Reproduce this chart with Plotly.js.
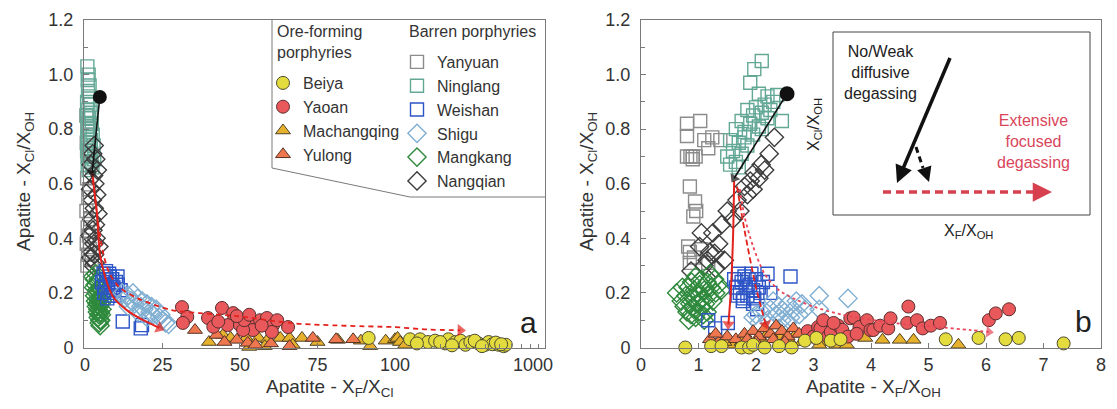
<!DOCTYPE html>
<html><head><meta charset="utf-8">
<script src="https://cdn.plot.ly/plotly-3.0.1.min.js"></script>
<style>html,body{margin:0;padding:0;background:#fff}#chart{width:1117px;height:409px}</style>
</head><body><div id="chart"></div>
<script>
// ---------------- DATA ----------------
// Panel a: x = X_F/X_Cl, y = X_Cl/X_OH
const a_ninglang_x = [0.8,1.2,0.9,1.5,1.0,1.3,0.7,1.8,1.1,2.0,0.6,1.4,2.2,0.9,1.6,1.2,2.5,0.8,1.9,1.1,2.8,1.5,0.7,2.1,1.3,3.0,1.7,0.9,2.4,1.2];
const a_ninglang_y = [1.03,1.0,0.98,0.96,0.94,0.92,0.9,0.89,0.87,0.86,0.85,0.84,0.82,0.81,0.8,0.79,0.78,0.77,0.76,0.75,0.74,0.73,0.72,0.71,0.7,0.69,0.68,0.67,0.66,0.65];
const a_yanyuan_x = [0.5,1.0,0.8,1.5,0.6,1.2,0.9,2.0,0.7,1.4,1.1,0.5,1.8,0.9,1.3,0.6,1.6,1.0,2.2,0.8];
const a_yanyuan_y = [0.85,0.82,0.8,0.78,0.75,0.72,0.7,0.68,0.62,0.58,0.55,0.5,0.47,0.44,0.41,0.38,0.36,0.34,0.32,0.3];
const a_nangqian_x = [3.0,2.5,3.5,2.0,4.0,2.8,3.2,1.8,3.8,2.4,3.0,4.2,2.2,3.4,2.6,1.6,3.6,2.9,4.5,2.3,3.1,1.9,3.3,2.7];
const a_nangqian_y = [0.74,0.71,0.69,0.67,0.65,0.63,0.6,0.58,0.56,0.54,0.51,0.49,0.47,0.45,0.43,0.41,0.4,0.38,0.37,0.35,0.34,0.33,0.31,0.3];
const a_mangkang_x = [2.5,3.0,3.5,4.0,2.8,3.3,3.8,4.3,4.8,3.1,3.6,4.1,4.6,5.1,3.4,3.9,4.4,4.9,5.4,3.7,4.2,4.7,5.2,4.0,4.5,5.0,5.5,4.3,4.8,5.3,4.6,5.1,4.9,5.6,6.0];
const a_mangkang_y = [0.26,0.25,0.27,0.24,0.22,0.23,0.21,0.25,0.22,0.19,0.2,0.18,0.2,0.21,0.17,0.16,0.17,0.18,0.19,0.15,0.14,0.15,0.16,0.13,0.12,0.13,0.14,0.11,0.1,0.12,0.09,0.1,0.08,0.17,0.2];
const a_weishan_x = [5.5,6.0,6.5,7.0,7.5,8.0,8.5,9.0,9.5,10.0,10.5,6.2,7.2,8.2,9.2,6.8,7.8,8.8,10.6,11.5,12.2,18.4,18.0];
const a_weishan_y = [0.24,0.27,0.22,0.25,0.2,0.26,0.23,0.21,0.19,0.24,0.26,0.2,0.18,0.19,0.22,0.28,0.27,0.25,0.23,0.21,0.095,0.082,0.07];
const a_shigu_x = [12,13,14,15,16,17,18,19,20,21,22,23,24,25,26,27,15.5,18.5,21.5,24.5,14,17,20];
const a_shigu_y = [0.2,0.18,0.19,0.17,0.16,0.18,0.15,0.14,0.16,0.13,0.12,0.14,0.11,0.1,0.09,0.085,0.2,0.17,0.15,0.12,0.15,0.13,0.11];
const a_yaoan_x = [31.3,33,31.6,39.7,41.4,44.2,47.8,48,46,50,54,54.2,56.5,58.7,60.7,60.3,65.5,51,51.4,43,57,62,49,53];
const a_yaoan_y = [0.148,0.112,0.09,0.108,0.076,0.145,0.126,0.1,0.082,0.082,0.093,0.064,0.1,0.108,0.082,0.057,0.075,0.064,0.1,0.095,0.08,0.1,0.115,0.12];
const a_machangqing_x = [44.5,47,52,56,59,63,66,70,75,81.6,89,97,100,104,108,117,92,58,67,53,40,225,290];
const a_machangqing_y = [0.046,0.035,0.035,0.035,0.03,0.035,0.035,0.035,0.02,0.028,0.025,0.025,0.03,0.035,0.02,0.01,0.005,0.005,0.01,0.002,0.02,0.02,0.015];
const a_yulong_x = [35.5,42.5,49,52.5,73.5,81,86.5,45,55,60,66];
const a_yulong_y = [0.064,0.046,0.028,0.017,0.035,0.03,0.03,0.02,0.01,0.015,0.005];
const a_beiya_x = [91.5,126,147,166,185,216,227,253,273,295,318,360,400,421,447,491,530,548,140,200,240,340,380,470,510];
const a_beiya_y = [0.035,0.03,0.03,0.02,0.025,0.015,0.03,0.02,0.025,0.01,0.02,0.015,0.01,0.02,0.012,0.01,0.005,0.01,0.015,0.02,0.008,0.025,0.005,0.018,0.012];

// Panel b: x = X_F/X_OH, y = X_Cl/X_OH
const b_ninglang_x = [2.1,1.97,1.9,2.05,2.2,2.37,2.45,2.3,2.15,2.0,1.85,1.95,2.1,2.25,1.75,1.9,2.05,2.2,1.65,1.8,1.95,2.1,1.55,1.7,1.85,1.6,1.75,1.5,1.65,1.55,1.8,1.7];
const b_ninglang_y = [1.05,1.02,0.97,0.93,0.92,0.925,0.83,0.9,0.89,0.88,0.87,0.85,0.86,0.87,0.83,0.82,0.81,0.84,0.8,0.79,0.78,0.8,0.76,0.75,0.74,0.72,0.71,0.7,0.68,0.67,0.77,0.66];
const b_yanyuan_x = [0.8,1.03,0.8,1.24,1.38,1.17,0.8,0.86,0.9,0.95,0.85,0.94,0.96,0.91,0.82,0.85,0.92,1.17,0.85,1.1,0.9,1.05];
const b_yanyuan_y = [0.82,0.83,0.775,0.77,0.76,0.73,0.7,0.7,0.7,0.7,0.59,0.535,0.5,0.48,0.37,0.35,0.33,0.31,0.31,0.76,0.69,0.36];
const b_nangqian_x = [2.32,2.23,2.09,1.97,2.05,1.9,1.8,1.85,1.67,1.72,1.5,1.6,1.4,1.25,1.05,1.02,1.28,1.45,1.15,0.87,1.35,1.2,2.15,1.95,1.1,1.3];
const b_nangqian_y = [0.77,0.71,0.67,0.64,0.62,0.61,0.59,0.56,0.54,0.5,0.5,0.47,0.45,0.42,0.42,0.37,0.345,0.32,0.32,0.28,0.38,0.35,0.65,0.58,0.3,0.29];
const b_mangkang_x = [0.62,0.7,0.75,0.78,0.8,0.82,0.85,0.87,0.9,0.92,0.93,0.95,0.97,1.0,1.0,1.02,1.05,1.07,1.08,1.1,1.12,1.15,1.17,1.2,1.22,1.25,1.28,1.3,1.35,1.4,0.88,0.95,1.05,0.83,1.15,0.98,1.03,0.9,0.72,1.1];
const b_mangkang_y = [0.2,0.17,0.15,0.19,0.13,0.22,0.16,0.12,0.18,0.14,0.21,0.11,0.16,0.19,0.13,0.23,0.15,0.18,0.12,0.21,0.16,0.24,0.19,0.27,0.22,0.17,0.25,0.2,0.23,0.21,0.24,0.26,0.25,0.1,0.13,0.2,0.17,0.15,0.22,0.1];
const b_weishan_x = [1.62,1.65,1.7,1.72,1.75,1.78,1.8,1.82,1.85,1.87,1.9,1.92,1.95,1.97,2.0,2.05,2.08,2.12,2.2,2.25,1.77,1.95,2.6,1.17,1.29,1.51,1.68,2.02];
const b_weishan_y = [0.25,0.22,0.27,0.2,0.24,0.18,0.26,0.22,0.19,0.25,0.23,0.27,0.21,0.18,0.25,0.22,0.2,0.24,0.27,0.2,0.17,0.16,0.26,0.1,0.07,0.09,0.19,0.14];
const b_shigu_x = [1.95,2.05,2.1,2.2,2.25,2.3,2.35,2.4,2.45,2.5,2.55,2.6,2.65,2.7,2.75,2.8,2.4,2.55,2.3,2.0,3.1,3.6,3.1,2.85];
const b_shigu_y = [0.11,0.09,0.13,0.1,0.14,0.08,0.12,0.15,0.1,0.13,0.16,0.11,0.14,0.17,0.12,0.16,0.07,0.09,0.17,0.12,0.19,0.18,0.14,0.14];
const b_yaoan_x = [2.9,3.0,3.08,3.12,3.17,3.25,3.3,3.43,3.5,3.6,3.64,3.7,3.8,3.93,3.99,4.04,4.16,4.3,4.34,4.63,4.65,4.8,4.9,5.04,5.2,6.05,6.17,6.4,3.35,3.75];
const b_yaoan_y = [0.06,0.04,0.075,0.07,0.1,0.04,0.057,0.08,0.065,0.04,0.107,0.11,0.075,0.1,0.064,0.064,0.08,0.07,0.107,0.09,0.15,0.1,0.07,0.08,0.09,0.1,0.125,0.14,0.09,0.05];
const b_machangqing_x = [1.3,1.6,1.9,2.1,2.2,2.4,2.6,2.7,2.8,3.0,3.2,3.4,3.58,2.45,3.1,3.9,4.2,4.5,4.74,5.52,2.95,3.3,1.45,1.75];
const b_machangqing_y = [0.01,0.01,0.01,0.03,0.05,0.04,0.02,0.05,0.02,0.03,0.02,0.01,0.01,0.01,0.01,0.035,0.028,0.028,0.028,0.01,0.05,0.04,0.02,0.02];
const b_yulong_x = [1.2,1.35,1.5,1.65,1.8,1.95,2.05,2.15,2.25,2.35,2.45,2.55,2.65,2.75,2.3,2.0,2.5,1.85,2.9,1.3];
const b_yulong_y = [0.03,0.02,0.04,0.03,0.05,0.06,0.04,0.07,0.05,0.08,0.06,0.04,0.07,0.05,0.03,0.02,0.02,0.03,0.03,0.05];
const b_beiya_x = [0.77,1.22,1.4,1.75,1.88,1.95,2.15,2.4,2.62,2.85,3.05,3.3,3.47,5.3,5.87,6.34,6.57,7.35];
const b_beiya_y = [0.0,0.005,0.005,0.0,0.0,0.01,0.0,0.005,0.0,0.025,0.035,0.025,0.03,0.03,0.035,0.03,0.035,0.015];

// Trend paths (data space)
const a_black_x = [4.8, 2.3];
const a_black_y = [0.918, 0.64];
const a_solid_x = [2.3,3.9,4.8,6.5,9.1,13.5,18.8,24];
const a_solid_y = [0.64,0.49,0.345,0.26,0.185,0.137,0.1,0.072];
const a_dash_x = [2.6,4.2,6,8,11,17,28,37,49,68,100,164,273];
const a_dash_y = [0.62,0.46,0.34,0.27,0.222,0.18,0.137,0.126,0.115,0.088,0.075,0.066,0.063];
const b_black_x = [2.54,1.62];
const b_black_y = [0.93,0.62];
const b_solid_x = [1.62,1.6,1.56,1.52];
const b_solid_y = [0.61,0.4,0.2,0.085];
const b_dash_x = [1.67,1.8,2.0,2.17];
const b_dash_y = [0.59,0.43,0.22,0.085];
const b_dot_x = [1.72,1.8,1.95,2.15,2.4,2.7,3.0,3.5,4.4,5.15,5.73,6.05];
const b_dot_y = [0.58,0.48,0.37,0.27,0.21,0.175,0.15,0.12,0.09,0.075,0.064,0.057];

const yTickVals = [0,0.2,0.4,0.6,0.8,1.0,1.2];
const yTickText = ['0','0.2','0.4','0.6','0.8','1.0','1.2'];
const aTickVals = [0,25,50,75,100];
const aLogTickVals = [1000];
const aLogMinor = [200,300,400,500,600,700,800,900];

// ---------------- STYLE / LAYOUT ----------------
const W = 1117, H = 409;
const px = v => v / W, py = v => 1 - v / H;
const FONT = 'Liberation Sans, Arial, Helvetica, sans-serif';
const AX = '#7a7a7a', TXT = '#333';
const yDom = [py(347.5), py(20)];

const S = {
  Beiya:       {sym:'circle', fill:'#e4dc3e', line:'#4d4a30', size:13, lg:'legend', rank:1},
  Yaoan:       {sym:'circle', fill:'#e9585b', line:'#5a2f2f', size:13, lg:'legend', rank:2},
  Machangqing: {sym:'triangle-up', fill:'#e6b12d', line:'#4f4128', size:13, lg:'legend', rank:3},
  Yulong:      {sym:'triangle-up', fill:'#ef774f', line:'#553325', size:13, lg:'legend', rank:4},
  Yanyuan:     {sym:'square-open', fill:'#8c8c8c', size:13, lg:'legend2', rank:1},
  Ninglang:    {sym:'square-open', fill:'#63a895', size:13, lg:'legend2', rank:2},
  Weishan:     {sym:'square-open', fill:'#2d55c6', size:13, lg:'legend2', rank:3},
  Shigu:       {sym:'diamond-open', fill:'#80afd2', size:14, lg:'legend2', rank:4},
  Mangkang:    {sym:'diamond-open', fill:'#2f8a3d', size:14, lg:'legend2', rank:5},
  Nangqian:    {sym:'diamond-open', fill:'#3d3d3d', size:14, lg:'legend2', rank:6}
};

function marker(name){
  const s = S[name];
  const open = s.sym.indexOf('open') >= 0;
  return open ? {symbol:s.sym, size:s.size, color:s.fill, line:{width:1.4, color:s.fill}}
              : {symbol:s.sym, size:s.size, color:s.fill, line:{width:1, color:s.line}};
}
function pts(name, xs, ys, xa, ya, showlegend){
  const s = S[name];
  return {type:'scatter', mode:'markers', name:name, x:xs, y:ys, xaxis:xa, yaxis:ya,
    marker:marker(name), cliponaxis:false, showlegend:showlegend, legend:s.lg,
    legendrank:s.rank, legendgroup:name, hoverinfo:'skip'};
}
function splitA(xs, ys, lin){
  const ox=[], oy=[];
  xs.forEach((v,i)=>{ if(lin ? v<=100 : v>100){ ox.push(v); oy.push(ys[i]); } });
  return [ox, oy];
}
const traces = [];
const drawOrder = ['Yanyuan','Ninglang','Nangqian','Mangkang','Weishan','Shigu','Machangqing','Yulong','Yaoan','Beiya'];
const aData = {Yanyuan:[a_yanyuan_x,a_yanyuan_y], Ninglang:[a_ninglang_x,a_ninglang_y], Nangqian:[a_nangqian_x,a_nangqian_y],
  Mangkang:[a_mangkang_x,a_mangkang_y], Weishan:[a_weishan_x,a_weishan_y], Shigu:[a_shigu_x,a_shigu_y],
  Machangqing:[a_machangqing_x,a_machangqing_y], Yulong:[a_yulong_x,a_yulong_y], Yaoan:[a_yaoan_x,a_yaoan_y], Beiya:[a_beiya_x,a_beiya_y]};
const bData = {Yanyuan:[b_yanyuan_x,b_yanyuan_y], Ninglang:[b_ninglang_x,b_ninglang_y], Nangqian:[b_nangqian_x,b_nangqian_y],
  Mangkang:[b_mangkang_x,b_mangkang_y], Weishan:[b_weishan_x,b_weishan_y], Shigu:[b_shigu_x,b_shigu_y],
  Machangqing:[b_machangqing_x,b_machangqing_y], Yulong:[b_yulong_x,b_yulong_y], Yaoan:[b_yaoan_x,b_yaoan_y], Beiya:[b_beiya_x,b_beiya_y]};
drawOrder.forEach(n=>{
  const [lx,ly] = splitA(aData[n][0], aData[n][1], true);
  const [gx,gy] = splitA(aData[n][0], aData[n][1], false);
  traces.push(pts(n, lx, ly, 'x', 'y', true));
  if (gx.length) traces.push(pts(n, gx, gy, 'x2', 'y2', false));
  traces.push(pts(n, bData[n][0], bData[n][1], 'x3', 'y3', false));
});

function arrowPath(xs, ys, xa, ya, color, width, dash, head){
  const n = xs.length;
  return {type:'scatter', mode:'lines+markers', x:xs, y:ys, xaxis:xa, yaxis:ya,
    line:{color:color, width:width, dash:dash, shape:'spline', smoothing:0.8},
    marker:{color:color, size:xs.map((_,i)=> i===n-1 ? head : 0), symbol:'triangle-up', angleref:'previous', line:{width:0}},
    cliponaxis:false, showlegend:false, hoverinfo:'skip'};
}
function startDot(xs, ys, xa, ya, size){
  return {type:'scatter', mode:'markers', x:[xs[0]], y:[ys[0]], xaxis:xa, yaxis:ya,
    marker:{color:'#111', size:size, symbol:'circle', line:{width:0}}, cliponaxis:false, showlegend:false, hoverinfo:'skip'};
}
const RED = '#e3221d', PINK = '#e8475a';
// panel a arrows
const aDashLin = splitA(a_dash_x, a_dash_y, true);
const aDashLogPart = splitA(a_dash_x, a_dash_y, false);
const i100 = a_dash_x.indexOf(100);
const aDashLog = [[a_dash_x[i100]].concat(aDashLogPart[0]), [a_dash_y[i100]].concat(aDashLogPart[1])];
traces.push({type:'scatter', mode:'lines', x:aDashLin[0], y:aDashLin[1], xaxis:'x', yaxis:'y',
  line:{color:RED, width:1.8, dash:'5px,4px', shape:'spline', smoothing:0.8}, cliponaxis:false, showlegend:false, hoverinfo:'skip'});
traces.push(arrowPath(aDashLog[0], aDashLog[1], 'x2', 'y2', RED, 1.8, '5px,4px', 11));
traces.push(arrowPath(a_solid_x, a_solid_y, 'x', 'y', RED, 2, 'solid', 11));
traces.push(arrowPath(a_black_x, a_black_y, 'x', 'y', '#111', 1.6, 'solid', 10));
traces.push(startDot(a_black_x, a_black_y, 'x', 'y', 14));
// panel b arrows
traces.push(arrowPath(b_dot_x, b_dot_y, 'x3', 'y3', PINK, 1.8, '3px,3px', 10));
traces.push(arrowPath(b_dash_x, b_dash_y, 'x3', 'y3', RED, 1.8, '6px,3px', 11));
traces.push(arrowPath(b_solid_x, b_solid_y, 'x3', 'y3', RED, 2, 'solid', 11));
traces.push(arrowPath(b_black_x, b_black_y, 'x3', 'y3', '#111', 1.6, 'solid', 10));
traces.push(startDot(b_black_x, b_black_y, 'x3', 'y3', 15));

const tickFont = {family:FONT, size:18, color:TXT};
const baseAx = {showgrid:false, zeroline:false, showline:true, linecolor:AX, linewidth:1,
  ticks:'inside', ticklen:5, tickcolor:AX, tickfont:tickFont};
const yAx = Object.assign({}, baseAx, {range:[0,1.2], domain:yDom, tickmode:'array', tickvals:yTickVals, ticktext:yTickText,
  minor:{tickmode:'linear', tick0:0, dtick:0.1, ticks:'inside', ticklen:4, tickcolor:AX}, ticklabelstandoff:6});

function note(x, y, text, size, color, extra){
  return Object.assign({xref:'paper', yref:'paper', x:px(x), y:py(y), text:text, showarrow:false,
    xanchor:'center', yanchor:'middle', font:{family:FONT, size:size, color:color}}, extra || {});
}
function head(x, y, ax, ay, color, width, size){
  return {xref:'paper', yref:'paper', x:px(x), y:py(y), ax:ax, ay:ay, text:'', showarrow:true,
    arrowhead:2, arrowsize:size, arrowwidth:width, arrowcolor:color};
}

const layout = {
  width:W, height:H, autosize:false, margin:{l:0,r:0,t:0,b:0},
  paper_bgcolor:'#fff', plot_bgcolor:'rgba(0,0,0,0)', font:{family:FONT, color:TXT},
  xaxis: Object.assign({}, baseAx, {domain:[px(84),px(395)], range:[-0.3,100], anchor:'y', mirror:true,
    tickmode:'array', tickvals:aTickVals, ticklabelstandoff:1}),
  xaxis2: Object.assign({}, baseAx, {domain:[px(395),px(545)], type:'log', range:[2,3], anchor:'y2', mirror:true,
    tickmode:'array', tickvals:aLogTickVals, ticktext:['1000'], ticklabelshift:-12, ticklabelstandoff:1,
    minor:{tickmode:'array', tickvals:aLogMinor, ticks:'inside', ticklen:4, tickcolor:AX}}),
  yaxis: Object.assign({}, yAx, {anchor:'x'}),
  yaxis2: {domain:yDom, range:[0,1.2], anchor:'x2', side:'right', showline:true, linecolor:AX, linewidth:1,
    showticklabels:false, ticks:'', showgrid:false, zeroline:false},
  xaxis3: Object.assign({}, baseAx, {domain:[px(641),px(1101)], range:[0,8], dtick:1, anchor:'y3', mirror:true, ticklabelstandoff:1}),
  yaxis3: Object.assign({}, yAx, {anchor:'x3', mirror:true}),
  legend: {x:px(263), y:py(66), xanchor:'left', yanchor:'top', bgcolor:'rgba(0,0,0,0)', borderwidth:0,
    font:{family:FONT, size:16, color:TXT}, traceorder:'normal', tracegroupgap:0, itemclick:false, itemdoubleclick:false},
  legend2: {x:px(397), y:py(45), xanchor:'left', yanchor:'top', bgcolor:'rgba(0,0,0,0)', borderwidth:0,
    font:{family:FONT, size:16, color:TXT}, traceorder:'normal', tracegroupgap:0, itemclick:false, itemdoubleclick:false},
  shapes: [
    {type:'path', xref:'paper', yref:'paper', layer:'above',
     path:`M ${px(272)} ${py(20)} L ${px(272)} ${py(168)} L ${px(410)} ${py(197)} L ${px(545)} ${py(197)}`,
     line:{color:AX, width:1}},
    {type:'rect', xref:'paper', yref:'paper', x0:px(833), x1:px(1090), y0:py(215), y1:py(32), line:{color:'#444', width:1}},
    {type:'line', xref:'paper', yref:'paper', x0:px(950), y0:py(58), x1:px(902), y1:py(171), line:{color:'#111', width:3.5}},
    {type:'line', xref:'paper', yref:'paper', x0:px(916), y0:py(147), x1:px(923), y1:py(168), line:{color:'#111', width:3, dash:'6px,4px'}},
    {type:'line', xref:'paper', yref:'paper', x0:px(883), y0:py(192), x1:px(1040), y1:py(192), line:{color:'#d6404f', width:3.5, dash:'8px,5px'}}
  ],
  annotations: [
    note(25, 182, 'Apatite - X<sub>Cl</sub>/X<sub>OH</sub>', 19, TXT, {textangle:-90}),
    note(588, 182, 'Apatite - X<sub>Cl</sub>/X<sub>OH</sub>', 19, TXT, {textangle:-90}),
    note(329, 388, 'Apatite - X<sub>F</sub>/X<sub>Cl</sub>', 19, TXT),
    note(873, 388, 'Apatite - X<sub>F</sub>/X<sub>OH</sub>', 19, TXT),
    note(528, 322, 'a', 30, '#222'),
    note(1083, 321, 'b', 30, '#222'),
    note(275, 21, 'Ore-forming<br>porphyries', 16, TXT, {xanchor:'left', yanchor:'top', align:'left'}),
    note(407, 21, 'Barren porphyries', 16, TXT, {xanchor:'left', yanchor:'top', align:'left'}),
    note(880, 72, 'No/Weak<br>diffusive<br>degassing', 16, '#222', {align:'center'}),
    note(1033, 142, 'Extensive<br>focused<br>degassing', 16, '#d9455a', {align:'center'}),
    note(814, 125, 'X<sub>Cl</sub>/X<sub>OH</sub>', 16, '#222', {textangle:-90}),
    note(968, 232, 'X<sub>F</sub>/X<sub>OH</sub>', 16, '#222'),
    head(897, 183, 5, -12, '#111', 3.5, 1.0),
    head(929, 182, -4, -12, '#111', 3, 1.0),
    head(1052, 192, -14, 0, '#d6404f', 3.5, 1.1)
  ]
};
Plotly.newPlot('chart', traces, layout, {staticPlot:true, displayModeBar:false});
</script></body></html>
